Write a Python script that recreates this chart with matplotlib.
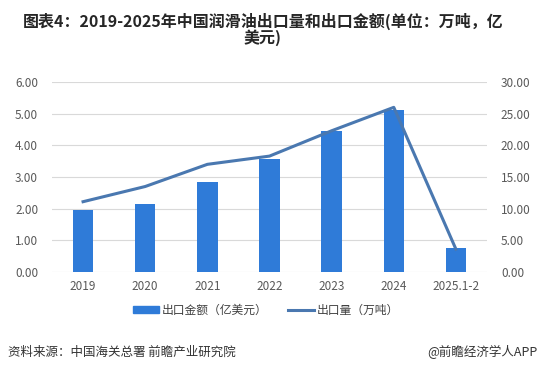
import matplotlib
matplotlib.use("Agg")
import matplotlib.pyplot as plt
from matplotlib.lines import Line2D
from matplotlib.patches import Patch
import numpy as np

plt.rcParams['font.family'] = ['Noto Sans CJK SC', 'DejaVu Sans']

categories = ["2019", "2020", "2021", "2022", "2023", "2024", "2025.1-2"]
export_value = [1.97, 2.15, 2.84, 3.57, 4.46, 5.11, 0.75]   # 亿美元
export_volume = [11.1, 13.5, 17.0, 18.3, 22.3, 26.0, 3.6]   # 万吨
left_ticks = [0, 1, 2, 3, 4, 5, 6]
right_ticks = [0, 5, 10, 15, 20, 25, 30]

bar_color = "#2F7BD8"
line_color = "#4A78B0"
text_color = "#595959"
grid_color = "#D9D9D9"

fig = plt.figure(figsize=(5.4, 3.74), dpi=100)
ax = fig.add_axes([52/540, 1-272/374, 435/540, 190/374])
x = np.arange(len(categories))
ax.bar(x, export_value, width=0.33, color=bar_color, zorder=2)
ax.set_xlim(-0.5, len(categories)-0.5)
ax.set_ylim(0, 6)
ax.set_yticks(left_ticks)
ax.set_yticklabels([f"{v:.2f}" for v in left_ticks])
ax.set_xticks(x)
ax.set_xticklabels(categories)
ax.grid(axis='y', color=grid_color, lw=0.8, zorder=0)
for s in ax.spines.values():
    s.set_visible(False)
ax.tick_params(axis='both', length=0, labelsize=8.5, colors=text_color, pad=6)
ax.tick_params(axis='y', pad=10)

ax2 = ax.twinx()
ax2.plot(x, export_volume, color=line_color, lw=2.2, zorder=3)
ax2.set_ylim(0, 30)
ax2.set_yticks(right_ticks)
ax2.set_yticklabels([f"{v:.2f}" for v in right_ticks])
for s in ax2.spines.values():
    s.set_visible(False)
ax2.tick_params(axis='y', length=0, labelsize=8.5, colors=text_color, pad=10)

fig.text(263/540, 1-21/374, "图表4：2019-2025年中国润滑油出口量和出口金额(单位：万吨，亿",
         ha='center', va='center', fontsize=11.5, fontweight='bold', color='#262626')
fig.text(263/540, 1-38/374, "美元)",
         ha='center', va='center', fontsize=11.5, fontweight='bold', color='#262626')

handles = [Patch(color=bar_color), Line2D([0], [0], color=line_color, lw=2.2)]
fig.legend(handles, ["出口金额（亿美元）", "出口量（万吨）"], loc='center',
           bbox_to_anchor=(266/540, 1-310/374), ncol=2, frameon=False,
           fontsize=8.5, handlelength=2.2, handleheight=0.5, columnspacing=1.8,
           handletextpad=0.2, labelcolor='#404040')

fig.text(8/540, 1-352/374, "资料来源：中国海关总署 前瞻产业研究院", ha='left', va='center',
         fontsize=9, color='#333333')
fig.text(537/540, 1-352/374, "@前瞻经济学人APP", ha='right', va='center',
         fontsize=9, color='#333333')

fig.savefig("out.png", dpi=100)
